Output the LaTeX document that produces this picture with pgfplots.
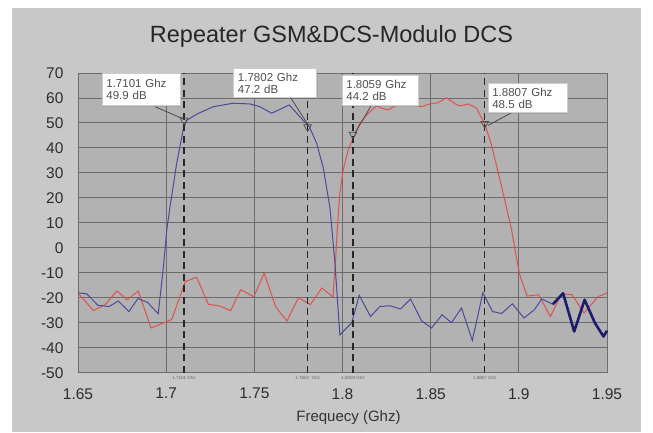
\documentclass[border=0pt]{standalone}
\usepackage{pgfplots}
\pgfplotsset{compat=1.18}
\usepackage{fontspec}
\setmainfont{Liberation Sans}
\usetikzlibrary{shadows}
\definecolor{panel}{RGB}{200,200,200}
\definecolor{plotbg}{RGB}{178,178,178}
\definecolor{gridc}{RGB}{108,108,108}
\definecolor{blueline}{RGB}{75,75,155}
\definecolor{navy}{RGB}{28,28,110}
\definecolor{redline}{RGB}{222,82,76}
\definecolor{boxtext}{RGB}{80,80,80}
\tikzset{
  mybox/.style={draw=black!20, fill=white, anchor=north west, align=left, text=boxtext,
    inner xsep=4.5pt, inner ysep=0pt, font=\fontsize{11.5}{12}\selectfont,
    drop shadow={shadow xshift=1.5pt, shadow yshift=-1.5pt, opacity=0.25}},
  tinylab/.style={font=\fontsize{4.5}{5}\selectfont, text=black!60, anchor=north, inner sep=1pt, yshift=-2pt},
}
\begin{document}
\begin{tikzpicture}
\useasboundingbox (0,0) rectangle (653pt,432pt);
\fill[white] (0,0) rectangle (653pt,432pt);
\fill[panel] (12pt,0) rectangle (641pt,424pt);
\begin{axis}[
  at={(78pt,59.3pt)}, anchor=south west,
  scale only axis, width=529pt, height=299.7pt,
  xmin=1.65, xmax=1.95, ymin=-50, ymax=70,
  xtick={1.65,1.7,1.75,1.8,1.85,1.9,1.95},
  xticklabels={1.65,1.7,1.75,1.8,1.85,1.9,1.95},
  ytick={-50,-40,-30,-20,-10,0,10,20,30,40,50,60,70},
  yticklabels={-50,-40,-30,-20,-10,0,10,20,30,40,50,60,70},
  major tick length=0pt,
  grid=major, grid style={gridc, line width=0.9pt},
  axis line style={gridc, line width=0.9pt},
  axis background/.style={fill=plotbg},
  tick label style={font=\fontsize{15.5}{18}\selectfont, text=black!82},
  xticklabel style={yshift=-12pt},
  yticklabel style={xshift=-11pt},
  title={Repeater GSM\&DCS-Modulo DCS},
  title style={at={(axis description cs:0.5,1)}, anchor=base, yshift=24.7pt, xshift=-11pt, font=\fontsize{23.5}{27}\selectfont, text=black!85},
  xlabel={Frequecy (Ghz)},
  xlabel style={at={(axis description cs:0.5,0)}, anchor=base, yshift=-49pt, xshift=6pt, font=\fontsize{15}{18}\selectfont, text=black!80},
  clip=false,
]
% red trace
\addplot[redline, line width=1pt] coordinates {
(1.65,-18.1) (1.6587,-25.1) (1.6653,-22.8) (1.6721,-17.3) (1.6778,-20.8) (1.6842,-17.3)
(1.6914,-32.1) (1.6972,-30.4) (1.7031,-28.7) (1.7109,-13.5) (1.7173,-11.8) (1.7239,-22.6)
(1.7305,-23.3) (1.7365,-25.2) (1.7423,-16.8) (1.7497,-19.6) (1.7556,-10.2) (1.7621,-23.6)
(1.7685,-29.3) (1.7750,-20) (1.7818,-22.7) (1.7883,-16.1) (1.7946,-19.7) (1.7961,-4.8)
(1.7970,7.2) (1.7985,21.9) (1.8004,31.2) (1.8032,39.2) (1.8061,44) (1.8099,49.9)
(1.8146,53.9) (1.8193,56.8) (1.8222,55.9) (1.8259,55.2) (1.8311,57.4) (1.8382,57.9)
(1.8448,56.5) (1.8495,57.6) (1.8543,58.1) (1.8590,60.1) (1.8640,57.6) (1.8666,56.8)
(1.8713,57.6) (1.8760,55.9) (1.8807,49.5) (1.8845,41.2) (1.8911,21.9) (1.8959,7.2)
(1.8989,-5) (1.9006,-11) (1.9047,-19.3) (1.9112,-18.8) (1.9179,-27.5) (1.9242,-18.4)
(1.9302,-18.8) (1.9370,-26.1) (1.9450,-19.5) (1.95,-18.1)};
% blue trace
\addplot[blueline, line width=1pt] coordinates {
(1.65,-18) (1.6549,-18.4) (1.6613,-23) (1.6676,-23.5) (1.6728,-21.3) (1.6789,-25.5)
(1.6840,-20.3) (1.6894,-21.8) (1.6955,-26.4) (1.6984,-8) (1.7003,7) (1.7022,16.5)
(1.7060,34) (1.7097,47.5) (1.7116,51) (1.7173,53.5) (1.7267,56.5) (1.7380,57.9)
(1.7475,57.6) (1.7532,56.5) (1.7598,53.9) (1.7698,57.2) (1.7758,52.5) (1.7811,48.5)
(1.7853,42) (1.7891,32) (1.7929,16) (1.7957,-6) (1.7985,-34.8) (1.8052,-30.1)
(1.8095,-19) (1.8159,-27.5) (1.8212,-23.5) (1.8269,-23.2) (1.8329,-24.5) (1.8386,-20.5)
(1.8448,-29.2) (1.8505,-32.1) (1.8565,-26.8) (1.8618,-30) (1.8675,-24.1) (1.8736,-37.1)
(1.8796,-18) (1.8851,-25.5) (1.8902,-26.3) (1.8963,-22.4) (1.9029,-28.1) (1.9088,-24.8)
(1.9130,-20.5) (1.9193,-22.6)};
% thick navy end section
\addplot[navy, line width=2.6pt, line join=round] coordinates {
(1.9193,-22.6) (1.9251,-18.2) (1.9314,-33.5) (1.9373,-20.8) (1.9431,-30) (1.9480,-35.5) (1.95,-33.2)};
% marker dashed lines
\addplot[black!85, line width=1.3pt, dash pattern=on 7pt off 4.5pt] coordinates {(1.7101,-50) (1.7101,70)};
\addplot[black!85, line width=1.3pt, dash pattern=on 7pt off 4.5pt] coordinates {(1.7802,-50) (1.7802,70)};
\addplot[black!85, line width=1.3pt, dash pattern=on 7pt off 4.5pt] coordinates {(1.8059,-50) (1.8059,70)};
\addplot[black!85, line width=1.3pt, dash pattern=on 7pt off 4.5pt] coordinates {(1.8807,-50) (1.8807,70)};
% leader lines
\addplot[black!75, line width=0.7pt] coordinates {(1.6937,56.5) (1.7101,51.5)};
\addplot[black!75, line width=0.7pt] coordinates {(1.7702,60.5) (1.7806,49.2)};
\addplot[black!75, line width=0.7pt] coordinates {(1.8165,57.2) (1.8071,46.0)};
\addplot[black!75, line width=0.7pt] coordinates {(1.8987,55.2) (1.8826,49.0)};
% marker triangles
\addplot[only marks, mark=triangle, mark size=4.5pt, mark options={rotate=180, draw=black!70, fill=none, line width=0.7pt}]
  coordinates {(1.7101,51.1) (1.7802,48.4) (1.8059,45.4) (1.8807,49.7)};
% marker boxes
\node[mybox, text width=69pt, minimum height=32pt] at (axis cs:1.66344,69.9) {1.7101 Ghz\\49.9 dB};
\node[mybox, text width=74pt, minimum height=29pt] at (axis cs:1.73806,71.9) {1.7802 Ghz\\47.2 dB};
\node[mybox, text width=67pt, minimum height=30pt] at (axis cs:1.79952,69.2) {1.8059 Ghz\\44.2 dB};
\node[mybox, text width=70pt, minimum height=29pt] at (axis cs:1.88230,65.9) {1.8807 Ghz\\48.5 dB};
% tiny labels
\node[tinylab] at (axis cs:1.7101,-50) {1.7101 Ghz};
\node[tinylab] at (axis cs:1.7802,-50) {1.7802\ \ Ghz};
\node[tinylab] at (axis cs:1.8059,-50) {1.8059 Ghz};
\node[tinylab] at (axis cs:1.8807,-50) {1.8807 Ghz};
\end{axis}
\end{tikzpicture}
\end{document}
